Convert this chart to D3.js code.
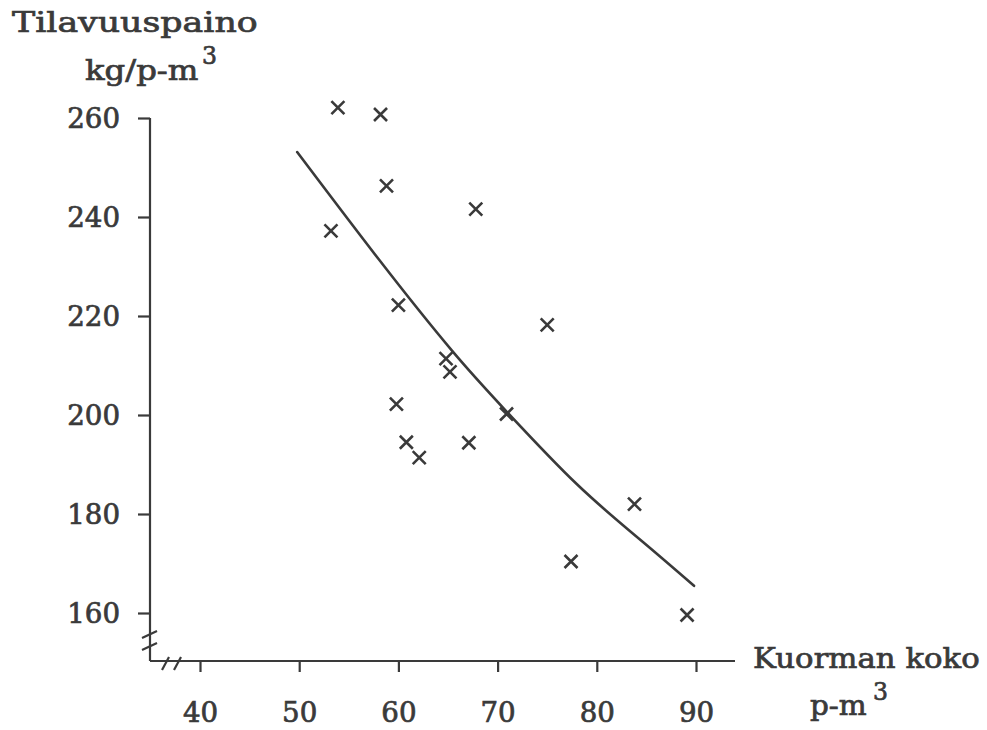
<!DOCTYPE html>
<html>
<head>
<meta charset="utf-8">
<script src="https://cdn.jsdelivr.net/npm/d3@7"></script>
<style>
  html, body { margin: 0; padding: 0; background: #ffffff; }
  svg { display: block; }
  .txt { font-family: "DejaVu Serif", "Liberation Serif", serif; fill: #3a3a3a; stroke: #3a3a3a; stroke-width: 0.7px; }
</style>
</head>
<body>
<svg id="chart" width="987" height="730"></svg>
<script>
// Load size (p-m3) and bulk density (kg/p-m3) of individual loads
const loadSize = [53.9, 58.2, 58.8, 67.8, 53.2, 60.0, 75.0, 64.8, 65.2, 59.8, 70.9, 60.8, 67.1, 62.1, 83.8, 77.4, 89.1];
const density  = [262.1, 260.7, 246.3, 241.6, 237.2, 222.2, 218.2, 211.4, 208.7, 202.2, 200.2, 194.5, 194.4, 191.4, 182.0, 170.4, 159.6];

// Fitted regression curve
const fitX = [49.8, 58.0, 65.4, 71.0, 78.0, 84.5, 89.8];
const fitY = [253.1, 231.5, 213.0, 200.5, 186.0, 174.6, 165.5];

// Axis ticks
const xTicks = [40, 50, 60, 70, 80, 90];
const yTicks = [160, 180, 200, 220, 240, 260];

const ink = "#3a3a3a";
const svg = d3.select("#chart");

const x = d3.scaleLinear().domain([40, 90]).range([200, 696]);
const y = d3.scaleLinear().domain([160, 260]).range([613, 118]);

const axisX0 = 150;   // y-axis position
const axisY0 = 661;   // x-axis position

// Typewriter-like fixed pitch: stretch each string to a constant advance per character
const pitch = (sel, adv) => sel
  .attr("textLength", function () { return this.textContent.length * adv; })
  .attr("lengthAdjust", "spacingAndGlyphs");

// Axis lines
svg.append("line").attr("x1", axisX0).attr("x2", axisX0)
  .attr("y1", y(260)).attr("y2", axisY0)
  .attr("stroke", ink).attr("stroke-width", 2.2);
svg.append("line").attr("x1", axisX0).attr("x2", 735)
  .attr("y1", axisY0).attr("y2", axisY0)
  .attr("stroke", ink).attr("stroke-width", 2.2);

// Break marks on both axes
const breaks = [
  [142, 638, 157, 631], [142, 650, 157, 643],
  [162, 670, 169, 657], [174, 670, 181, 657]
];
svg.selectAll("line.brk").data(breaks).enter().append("line")
  .attr("class", "brk")
  .attr("x1", d => d[0]).attr("y1", d => d[1])
  .attr("x2", d => d[2]).attr("y2", d => d[3])
  .attr("stroke", ink).attr("stroke-width", 2.2);

// Y axis ticks and labels
const gy = svg.append("g").attr("transform", `translate(${axisX0},0)`)
  .call(d3.axisLeft(y).tickValues(yTicks).tickSize(12).tickPadding(18));
gy.select(".domain").remove();
gy.selectAll(".tick line").attr("stroke", ink).attr("stroke-width", 2.2);
gy.selectAll(".tick text").attr("class", "txt").attr("font-family", null)
  .attr("font-size", 27).attr("dy", "0.36em").call(pitch, 17.6);

// X axis ticks and labels
const gx = svg.append("g").attr("transform", `translate(0,${axisY0})`)
  .call(d3.axisBottom(x).tickValues(xTicks).tickSize(11));
gx.select(".domain").remove();
gx.selectAll(".tick line").attr("stroke", ink).attr("stroke-width", 2.2);
gx.selectAll(".tick text").attr("class", "txt").attr("font-family", null)
  .attr("font-size", 27).attr("y", 61).attr("dy", 0).call(pitch, 17.6);

// Fitted curve
const line = d3.line().x(d => x(d[0])).y(d => y(d[1])).curve(d3.curveNatural);
svg.append("path")
  .datum(fitX.map((v, i) => [v, fitY[i]]))
  .attr("d", line)
  .attr("fill", "none").attr("stroke", ink).attr("stroke-width", 2.6)
  .attr("stroke-linecap", "round");

// Observations as x marks
const sym = d3.symbol().type(d3.symbolX).size(112);
svg.selectAll("path.pt").data(loadSize.map((v, i) => [v, density[i]])).enter().append("path")
  .attr("class", "pt")
  .attr("d", sym)
  .attr("transform", d => `translate(${x(d[0])},${y(d[1])})`)
  .attr("fill", "none").attr("stroke", ink).attr("stroke-width", 2.6);

// Axis titles
const addText = (t, px, py, size, adv) => svg.append("text").attr("class", "txt")
  .attr("x", px).attr("y", py).attr("font-size", size).text(t).call(pitch, adv);

addText("Tilavuuspaino", 12, 32, 27, 18.9);
addText("kg/p-m", 85, 80, 27, 18.9);
addText("3", 202, 64, 24, 15);
addText("Kuorman koko", 753, 668, 27, 18.9);
addText("p-m", 810, 715, 27, 18.9);
addText("3", 873, 700, 24, 15);
</script>
</body>
</html>
